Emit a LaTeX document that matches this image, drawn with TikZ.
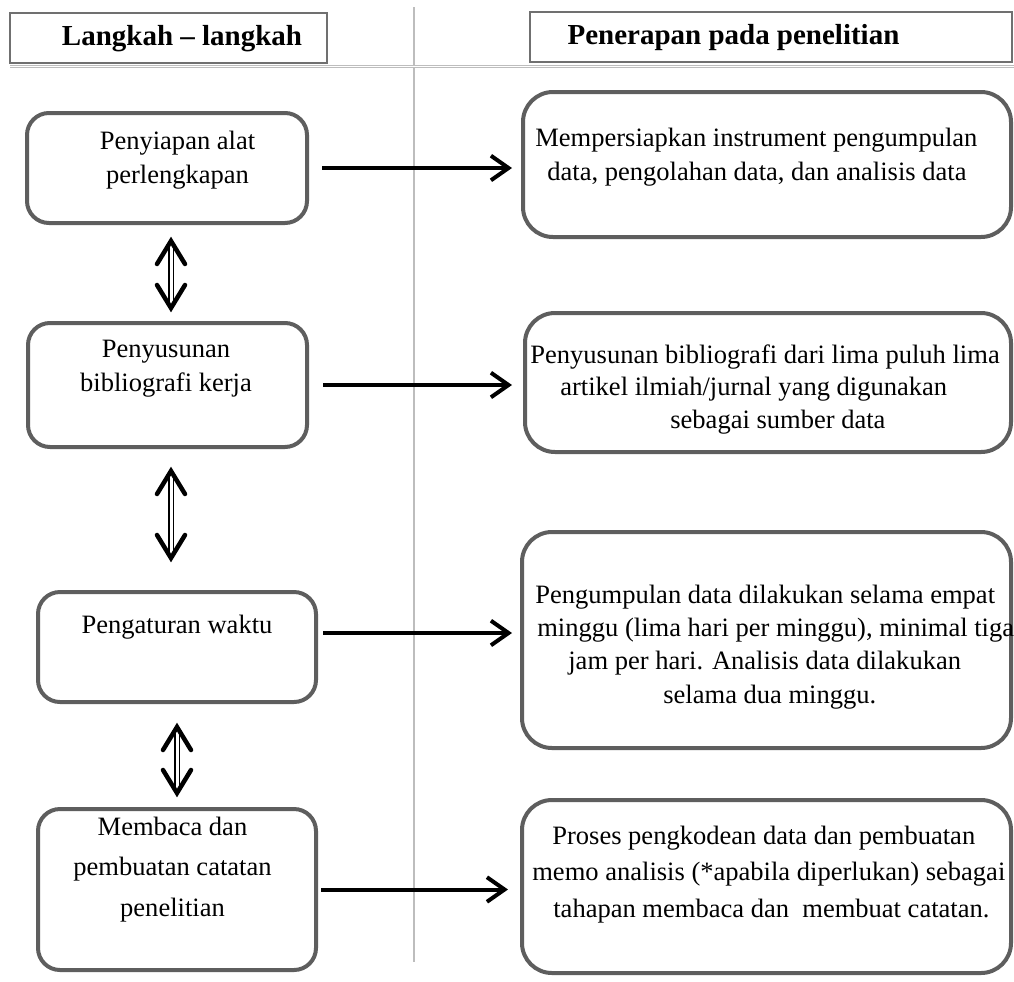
\documentclass[tikz,border=0pt]{standalone}
\usepackage{fontspec}
\setmainfont{Liberation Serif}
\usetikzlibrary{arrows.meta}
\newdimen\px \px=0.02cm
\definecolor{boxgray}{HTML}{5E5E5E}
\definecolor{hdrgray}{HTML}{707070}
\definecolor{sepgray}{HTML}{BDBDBD}
\tikzset{
  lbox/.style={draw=boxgray, line width=4\px, rounded corners=22\px, inner sep=0pt, outer sep=0pt},
  rbox/.style={draw=boxgray, line width=4\px, rounded corners=30\px, inner sep=0pt, outer sep=0pt},
  hdrbox/.style={draw=hdrgray, line width=2.5\px, inner sep=0pt, outer sep=0pt},
  hdrtext/.style={font=\fontsize{16.5pt}{19pt}\selectfont\bfseries, inner sep=0pt, anchor=base},
  ltext/.style={align=center, anchor=base, inner sep=0pt},
  rtext/.style={align=left, anchor=base west, inner sep=0pt},
  conn/.style={line width=4\px, -{Straight Barb[length=10pt, width=14pt]}},
  shaft/.style={draw=black, line width=1.2\px, double=white, double distance=3\px},
  headtip/.style={line width=4.5\px, line join=miter, line cap=round},
  sepline/.style={draw=sepgray, line width=1.5\px}
}
\begin{document}
\begin{tikzpicture}[x=0.02cm, y=-0.02cm, font=\fontsize{15.1pt}{18.9pt}\selectfont]
\useasboundingbox[fill=white] (0,0) rectangle (1014,981);

% separators
\draw[sepline] (414,7) -- (414,962);
\draw[draw=sepgray, line width=0.8\px, double=white, double distance=1.4\px] (10,66.5) -- (1014,66.5);

% headers
\node[hdrbox, minimum width=317\px, minimum height=50\px] (H1) at (168.5,38) {};
\node[hdrbox, minimum width=482\px, minimum height=50\px] (H2) at (771,37) {};
\node[hdrtext] (H1t) at (182,45) {Langkah – langkah};
\node[hdrtext] (H2t) at (733.5,44) {Penerapan pada penelitian};

% left boxes
\node[lbox, minimum width=280\px, minimum height=110\px] (L1) at (167,168) {};
\node[lbox, minimum width=279\px, minimum height=124\px] (L2) at (167.5,385) {};
\node[lbox, minimum width=278\px, minimum height=110\px] (L3) at (177,647) {};
\node[lbox, minimum width=278\px, minimum height=161\px] (L4) at (177,889.5) {};

% right boxes
\node[rbox, minimum width=488\px, minimum height=145\px] (R1) at (767,164.5) {};
\node[rbox, minimum width=486\px, minimum height=139\px] (R2) at (768,382.5) {};
\node[rbox, minimum width=489\px, minimum height=216\px] (R3) at (766.5,640) {};
\node[rbox, minimum width=489\px, minimum height=173\px] (R4) at (766.5,886.5) {};

% left texts (anchor = baseline of last line)
\node[ltext] (L1t) at (177.5,183) {Penyiapan alat\\perlengkapan};
\node[ltext] (L2t) at (166,391) {Penyusunan\\bibliografi kerja};
\node[ltext] (L3t) at (177,633) {Pengaturan waktu};
\node[ltext, font=\fontsize{15.1pt}{23pt}\selectfont] (L4t) at (172.5,916) {Membaca dan\\pembuatan catatan\\penelitian};

% right texts (anchor = baseline of last line)
\node[rtext, font=\fontsize{15.1pt}{19.3pt}\selectfont] (R1t) at (535,180)
  {Mempersiapkan instrument pengumpulan\\\hspace*{12\px}data, pengolahan data, dan analisis data};
\node[rtext, font=\fontsize{15.1pt}{18.4pt}\selectfont] (R2t) at (530,428)
  {Penyusunan bibliografi dari lima puluh lima\\\hspace*{30\px}artikel ilmiah/jurnal yang digunakan\\\hspace*{140\px}sebagai sumber data};
\node[rtext] (R3t) at (535,703)
  {Pengumpulan data dilakukan selama empat\\\hspace*{2\px}minggu (lima hari per minggu), minimal tiga\\\hspace*{33\px}jam per hari. Analisis data dilakukan\\\hspace*{128\px}selama dua minggu.};
\node[rtext, font=\fontsize{15.1pt}{20.7pt}\selectfont] (R4t) at (532,917)
  {\hspace*{20\px}Proses pengkodean data dan pembuatan\\memo analisis (*apabila diperlukan) sebagai\\\hspace*{21\px}tahapan membaca dan~ membuat catatan.};

% horizontal connectors
\draw[conn, shorten <=15\px, shorten >=11\px] (L1.east) -- (L1.east -| R1.west);
\draw[conn, shorten <=16\px, shorten >=13\px] (L2.east) -- (L2.east -| R2.west);
\coordinate (a3) at ([yshift=14\px]L3.east);
\draw[conn, shorten <=7\px, shorten >=10\px] (a3) -- (a3 -| R3.west);
\draw[conn, shorten <=5\px, shorten >=14\px] (L4.east) -- (L4.east -| R4.west);

% double-headed vertical connectors
\coordinate (s1) at ([xshift=4\px]L1.south);
\draw[shaft, shorten <=20\px, shorten >=17\px] (s1) -- (s1 |- L2.north);
\draw[headtip] (157,264) -- (171,241) -- (185,264);
\draw[headtip] (157,285) -- (171,308) -- (185,285);

\coordinate (s2) at ([xshift=3.5\px]L2.south);
\draw[shaft, shorten <=26\px, shorten >=36\px] (s2) -- (s2 |- L3.north);
\draw[headtip] (157,494) -- (171,471) -- (185,494);
\draw[headtip] (157,535) -- (171,558) -- (185,535);

\coordinate (s3) at (L3.south);
\draw[shaft, shorten <=27\px, shorten >=18\px] (s3) -- (s3 |- L4.north);
\draw[headtip] (163,750) -- (177,727) -- (191,750);
\draw[headtip] (163,770) -- (177,793) -- (191,770);
\end{tikzpicture}
\end{document}
